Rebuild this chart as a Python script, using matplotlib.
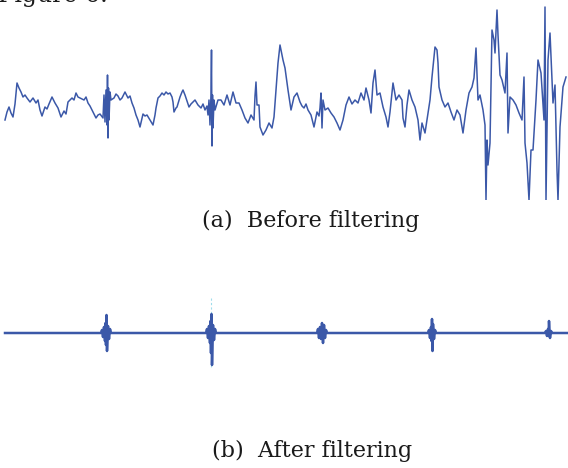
import numpy as np
import matplotlib
matplotlib.use("Agg")
import matplotlib.pyplot as plt

# signal before filtering (sample index, amplitude)
t_raw = [5, 7, 9, 11, 13, 15, 17, 19, 21, 23, 25, 27, 30, 33, 36, 38, 40, 42, 45, 47,
         49, 52, 55, 58, 61, 64, 66, 68, 72, 74, 76, 78, 80, 84, 86, 88, 90, 92, 96, 98,
         100, 103,
         104, 105, 106, 107, 107.5, 108, 108.5, 109, 110, 111,
         114, 116, 118, 120, 122, 125, 128, 130, 132, 134, 136, 138, 140, 142, 143, 145,
         147, 150, 153, 155, 156, 158, 160, 162, 164, 166, 168, 170, 172, 173, 174, 176,
         177, 180, 182, 183, 185, 186, 189, 191, 192, 195, 198, 201, 203, 205, 207,
         208, 209, 210, 211, 211.5, 212, 212.5, 213, 214, 215,
         218, 221, 224, 227, 230, 233, 236, 239, 242, 245, 248, 251, 254, 255, 256, 257,
         259, 260, 263, 266, 269, 272, 274, 276, 278, 280, 282, 283, 285, 288, 291, 294,
         297, 300, 302, 304, 306, 308, 311, 314, 317, 319, 320, 321, 322, 323, 325, 328,
         331, 334, 337, 340, 343, 346, 349, 352, 355, 358, 361, 364, 366, 369, 371, 373,
         375, 377, 380, 383, 386, 388, 390, 393, 396, 399, 402, 403, 405, 407, 409, 412,
         415, 418, 420, 422, 425, 428, 430, 432, 434, 435, 437, 438, 439, 442, 445, 448,
         451, 454, 457, 460, 463, 466, 469, 472, 474, 476, 478, 480, 483, 485, 486, 487,
         488, 490, 492, 494, 495, 497, 498, 500, 502, 505, 507, 508, 510, 513, 516, 519,
         522, 524, 525, 527, 529, 531, 533, 536, 538, 541, 544, 545, 546, 548, 550, 553,
         555, 557, 558, 560, 563, 566]
a_raw = [-20, -12, -7, -13, -17, -4, 17, 12, 8, 3, 5, 2, -2, 2, -3, 0, -10, -16, -7, -9,
         -4, 3, -3, -8, -17, -11, -14, -2, 2, 0, 7, 3, 2, 0, 3, -3, -6, -10, -18, -15,
         -14, -18,
         5, -22, 10, -25, 25, -38, 12, -20, 8, 0,
         2, 6, 4, 0, 2, 8, 2, 4, -3, -8, -15, -20, -27, -18, -14, -16,
         -15, -20, -25, -15, -8, 2, 4, 7, 5, 8, 6, 7, 3, -2, -12, -8,
         -7, 3, 8, 10, 5, 2, -7, -4, -3, 0, -5, -8, -4, -10, -6,
         -15, 0, -25, 5, 50, -46, 5, -28, 0, -10,
         0, 0, -5, 5, -5, 8, -3, -3, -10, -18, -23, -15, -20, 4, 18, -5,
         -5, -27, -35, -30, -23, -28, -17, 10, 37, 55, 45, 40, 32, 10, -10, 3,
         7, -2, -6, -8, -4, -10, -15, -27, -12, -16, -8, 7, -28, 0, -10, -8,
         -13, -17, -23, -30, -20, -5, 3, -4, 0, -3, 7, 0, 12, 0, -13, 17,
         30, 5, 7, -7, -17, -27, -12, 17, 0, 5, 0, -18, -27, -5, 10, 0,
         -7, -20, -40, -23, -33, -13, 0, 23, 43, 53, 50, 37, 13, 0, -7, -3,
         -12, -20, -10, -15, -33, -10, 7, 13, 22, 52, 0, 5, -10, -25, -100, -40,
         -65, -43, 70, 60, 47, 90, 65, 25, 20, 7, 47, -33, 3, 0, -5, -13,
         -20, 23, -43, -63, -100, -50, -50, 0, 40, 27, -20, 93, -100, 40, 67, -3,
         15, -70, -100, -27, 13, 23]

# signal after filtering
t_filt = [5, 40, 80,
          101, 102, 103, 104, 105, 105.5, 106, 106.5, 107, 108, 109, 110, 111,
          150, 190,
          206, 207, 208, 209, 210, 210.5, 211, 211.5, 212, 213, 214, 215, 216,
          270,
          317, 318, 319, 320, 321, 322, 323, 324, 325, 326, 327,
          380,
          428, 429, 430, 431, 431.5, 432, 432.5, 433, 434, 435, 436,
          490,
          545, 546, 547, 548, 548.5, 549, 550, 551, 552,
          560, 568]
a_filt = [0, 0, 0,
          0, 3, -4, 6, -8, 10, -12, 18, -18, 7, -6, 4, 0,
          0, 0,
          0, 4, -5, 7, -10, 12, -20, 19, -32, 8, -7, 4, 0,
          0,
          0, 4, -5, 6, -6, 10, -10, 8, -5, 3, 0,
          0,
          0, 3, -5, 6, -8, 14, -18, 9, -6, 3, 0,
          0,
          0, 2, -3, 4, -3, 12, -5, 2, 0,
          0, 0]
# faint trace remnant above/below the second burst
t_ghost = [211, 211]
a_ghost = [35, -34]

captions = ["(a)  Before filtering", "(b)  After filtering"]

assert len(t_raw) == len(a_raw) and len(t_filt) == len(a_filt)

W, H = 568, 468
fig = plt.figure(figsize=(W / 100, H / 100), dpi=100)
col = "#3b58a8"
serif = ["DejaVu Serif"]

# top panel: pixel rows 0..200
ax1 = fig.add_axes([0, 1 - 200 / H, 1, 200 / H])
ax1.plot(t_raw, a_raw, color=col, lw=1.1)
ax1.set_xlim(0, W)
ax1.set_ylim(-100, 100)
ax1.axis("off")

# bottom panel: pixel rows 290..376
ax2 = fig.add_axes([0, 1 - 376 / H, 1, 86 / H])
ax2.plot(t_ghost, a_ghost, color="#9fdcec", lw=0.8, ls=(0, (2, 2)))
ax2.plot(t_filt, a_filt, color=col, lw=1.8)
ax2.set_xlim(0, W)
ax2.set_ylim(-43, 43)
ax2.axis("off")

fig.text(311 / W, 1 - 221 / H, captions[0], ha="center", va="center",
         fontsize=16, family=serif, color="#1a1a1a")
fig.text(312 / W, 1 - 451 / H, captions[1], ha="center", va="center",
         fontsize=16, family=serif, color="#1a1a1a")
fig.text(-2 / W, 1 - 2 / H, "Figure 6.", ha="left", va="baseline",
         fontsize=17, family=serif, color="#1a1a1a")

fig.savefig("out.png", dpi=100)
